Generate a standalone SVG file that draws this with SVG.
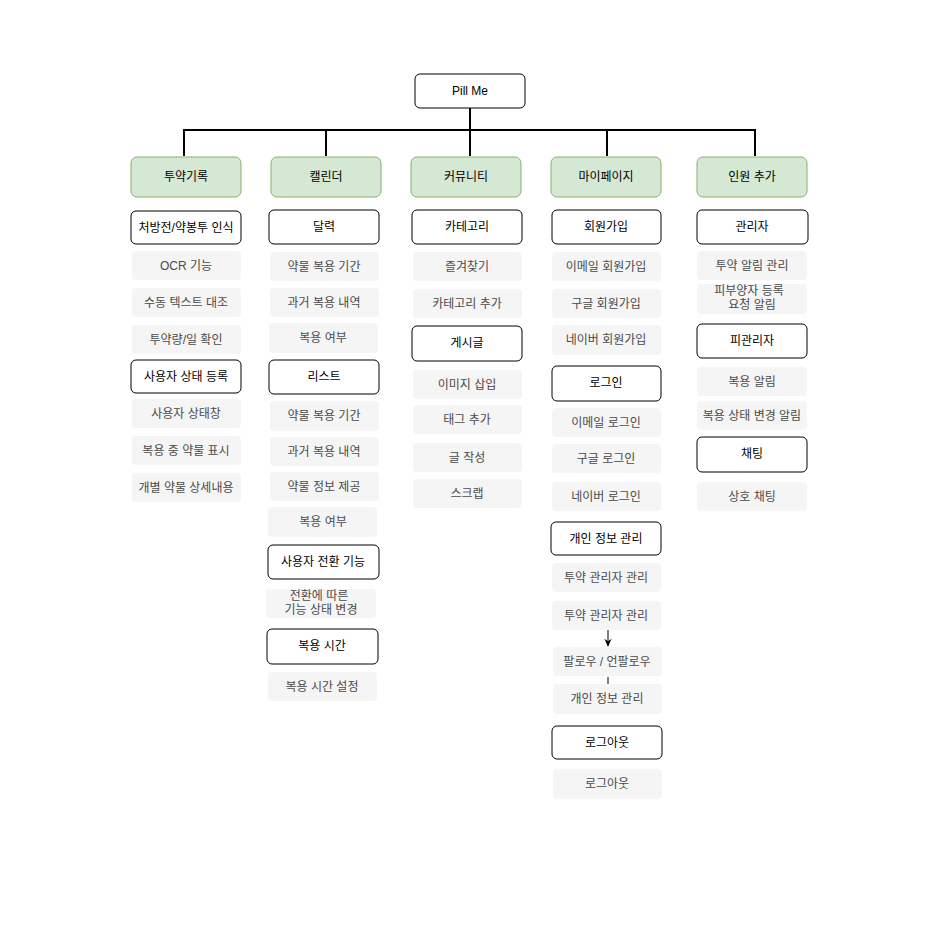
<svg xmlns="http://www.w3.org/2000/svg" width="935" height="935" viewBox="0 0 935 935">
<style>
text{font-family:"Liberation Sans","Noto Sans CJK KR",sans-serif;font-size:12px;text-anchor:middle;dominant-baseline:central}
.b rect{fill:#fff;stroke:#000;stroke-width:1}
.g rect{fill:#d5e8d4;stroke:#82b366;stroke-width:1}
.s rect{fill:#f5f5f5;stroke:none}
.b text,.g text{fill:#000}
.s text{fill:#4a4a4a}
.ln{fill:none;stroke:#000;stroke-width:2}
.ln1{fill:none;stroke:#000;stroke-width:1}
</style>
<defs>
<marker id="ah" viewBox="0 0 10 10" refX="9" refY="5" markerWidth="8" markerHeight="8" markerUnits="userSpaceOnUse" orient="auto"><path d="M0,0.5 L10,5 L0,9.5 L3,5 Z" fill="#000"/></marker>
</defs>
<rect width="935" height="935" fill="#fff"/>
<g id="connectors">
<path class="ln" d="M470,108 V156 M184,156 V130 H755 V156 M326,130 V156 M607,130 V156"/>
<path class="ln1" d="M608,630 V646" marker-end="url(#ah)"/>
<path class="ln1" d="M608,677 V684"/>
</g>
<g id="root" class="b"><rect x="415" y="74" width="110" height="34" rx="5"/><text x="470" y="91">Pill Me</text></g>
<g id="c1" class="g"><rect x="131" y="157" width="110" height="40" rx="6"/><text x="186" y="177">투약기록</text></g>
<g id="c2" class="g"><rect x="271" y="157" width="110" height="40" rx="6"/><text x="326" y="177">캘린더</text></g>
<g id="c3" class="g"><rect x="411" y="157" width="110" height="40" rx="6"/><text x="466" y="177">커뮤니티</text></g>
<g id="c4" class="g"><rect x="551" y="157" width="110" height="40" rx="6"/><text x="606" y="177">마이페이지</text></g>
<g id="c5" class="g"><rect x="697" y="157" width="110" height="40" rx="6"/><text x="752" y="177">인원 추가</text></g>

<g id="n1a" class="b"><rect x="131" y="211" width="110" height="33" rx="5"/><text x="186" y="227.5">처방전/약봉투 인식</text></g>
<g id="n1b" class="s"><rect x="132" y="251" width="109" height="29" rx="4"/><text x="186" y="265.5">OCR 기능</text></g>
<g id="n1c" class="s"><rect x="132" y="288" width="109" height="29" rx="4"/><text x="186" y="302.5">수동 텍스트 대조</text></g>
<g id="n1d" class="s"><rect x="132" y="325" width="109" height="29" rx="4"/><text x="186" y="339.5">투약량/일 확인</text></g>
<g id="n1e" class="b"><rect x="131" y="360" width="110" height="33" rx="5"/><text x="186" y="376.5">사용자 상태 등록</text></g>
<g id="n1f" class="s"><rect x="132" y="399" width="109" height="29" rx="4"/><text x="186" y="413.5">사용자 상태창</text></g>
<g id="n1g" class="s"><rect x="132" y="436" width="109" height="29" rx="4"/><text x="186" y="450.5">복용 중 약물 표시</text></g>
<g id="n1h" class="s"><rect x="132" y="473" width="109" height="29" rx="4"/><text x="186" y="487.5">개별 약물 상세내용</text></g>

<g id="n2a" class="b"><rect x="269" y="210" width="110" height="34" rx="5"/><text x="324" y="227">달력</text></g>
<g id="n2b" class="s"><rect x="270" y="252" width="109" height="29" rx="4"/><text x="324" y="266.5">약물 복용 기간</text></g>
<g id="n2c" class="s"><rect x="270" y="288" width="109" height="29" rx="4"/><text x="324" y="302.5">과거 복용 내역</text></g>
<g id="n2d" class="s"><rect x="269" y="323" width="109" height="30" rx="4"/><text x="323" y="338">복용 여부</text></g>
<g id="n2e" class="b"><rect x="269" y="360" width="110" height="34" rx="5"/><text x="324" y="377">리스트</text></g>
<g id="n2f" class="s"><rect x="270" y="401" width="109" height="30" rx="4"/><text x="324" y="416">약물 복용 기간</text></g>
<g id="n2g" class="s"><rect x="270" y="437" width="109" height="29" rx="4"/><text x="324" y="451.5">과거 복용 내역</text></g>
<g id="n2h" class="s"><rect x="270" y="472" width="109" height="29" rx="4"/><text x="324" y="486.5">약물 정보 제공</text></g>
<g id="n2i" class="s"><rect x="268" y="507" width="109" height="30" rx="4"/><text x="323" y="522">복용 여부</text></g>
<g id="n2j" class="b"><rect x="268" y="545" width="111" height="34" rx="5"/><text x="323" y="562">사용자 전환 기능</text></g>
<g id="n2k" class="s"><rect x="266" y="589" width="110" height="29" rx="4"/><text x="319" y="595.5">전환에 따른</text><text x="321" y="609.5">기능 상태 변경</text></g>
<g id="n2l" class="b"><rect x="267" y="629" width="111" height="35" rx="5"/><text x="322" y="646">복용 시간</text></g>
<g id="n2m" class="s"><rect x="268" y="672" width="109" height="29" rx="4"/><text x="322" y="686.5">복용 시간 설정</text></g>

<g id="n3a" class="b"><rect x="412" y="210" width="110" height="34" rx="5"/><text x="467" y="227">카테고리</text></g>
<g id="n3b" class="s"><rect x="413" y="252" width="109" height="29" rx="4"/><text x="467" y="266.5">즐겨찾기</text></g>
<g id="n3c" class="s"><rect x="413" y="289" width="109" height="29" rx="4"/><text x="467" y="303.5">카테고리 추가</text></g>
<g id="n3d" class="b"><rect x="412" y="326" width="110" height="35" rx="5"/><text x="467" y="343">게시글</text></g>
<g id="n3e" class="s"><rect x="413" y="370" width="109" height="29" rx="4"/><text x="467" y="384.5">이미지 삽입</text></g>
<g id="n3f" class="s"><rect x="413" y="405" width="109" height="29" rx="4"/><text x="467" y="419.5">태그 추가</text></g>
<g id="n3g" class="s"><rect x="413" y="443" width="109" height="29" rx="4"/><text x="467" y="457.5">글 작성</text></g>
<g id="n3h" class="s"><rect x="413" y="479" width="109" height="29" rx="4"/><text x="467" y="493.5">스크랩</text></g>

<g id="n4a" class="b"><rect x="552" y="210" width="109" height="34" rx="5"/><text x="606" y="227">회원가입</text></g>
<g id="n4b" class="s"><rect x="552" y="252" width="109" height="29" rx="4"/><text x="606" y="266.5">이메일 회원가입</text></g>
<g id="n4c" class="s"><rect x="552" y="289" width="109" height="29" rx="4"/><text x="606" y="303.5">구글 회원가입</text></g>
<g id="n4d" class="s"><rect x="552" y="325" width="109" height="30" rx="4"/><text x="606" y="340">네이버 회원가입</text></g>
<g id="n4e" class="b"><rect x="552" y="366" width="109" height="35" rx="5"/><text x="606" y="383">로그인</text></g>
<g id="n4f" class="s"><rect x="552" y="408" width="109" height="29" rx="4"/><text x="606" y="422.5">이메일 로그인</text></g>
<g id="n4g" class="s"><rect x="552" y="444" width="109" height="29" rx="4"/><text x="606" y="458.5">구글 로그인</text></g>
<g id="n4h" class="s"><rect x="552" y="482" width="109" height="29" rx="4"/><text x="606" y="496.5">네이버 로그인</text></g>
<g id="n4i" class="b"><rect x="551" y="522" width="110" height="33" rx="5"/><text x="606" y="538.5">개인 정보 관리</text></g>
<g id="n4j" class="s"><rect x="552" y="563" width="109" height="29" rx="4"/><text x="606" y="577.5">투약 관리자 관리</text></g>
<g id="n4k" class="s"><rect x="552" y="601" width="109" height="29" rx="4"/><text x="606" y="615.5">투약 관리자 관리</text></g>
<g id="n4l" class="s"><rect x="553" y="647" width="109" height="29" rx="4"/><text x="607" y="661.5">팔로우 / 언팔로우</text></g>
<g id="n4m" class="s"><rect x="553" y="684" width="109" height="30" rx="4"/><text x="607" y="699">개인 정보 관리</text></g>
<g id="n4n" class="b"><rect x="552" y="726" width="110" height="33" rx="5"/><text x="607" y="742.5">로그아웃</text></g>
<g id="n4o" class="s"><rect x="553" y="769" width="109" height="30" rx="4"/><text x="607" y="784">로그아웃</text></g>

<g id="n5a" class="b"><rect x="697" y="210" width="111" height="34" rx="5"/><text x="752" y="227">관리자</text></g>
<g id="n5b" class="s"><rect x="697" y="251" width="110" height="29" rx="4"/><text x="752" y="265.5">투약 알림 관리</text></g>
<g id="n5c" class="s"><rect x="697" y="284" width="110" height="30" rx="4"/><text x="749" y="291">피부양자 등록</text><text x="752" y="305">요청 알림</text></g>
<g id="n5d" class="b"><rect x="697" y="324" width="110" height="34" rx="5"/><text x="752" y="341">피관리자</text></g>
<g id="n5e" class="s"><rect x="697" y="367" width="110" height="29" rx="4"/><text x="752" y="381.5">복용 알림</text></g>
<g id="n5f" class="s"><rect x="697" y="401" width="110" height="29" rx="4"/><text x="752" y="415.5">복용 상태 변경 알림</text></g>
<g id="n5g" class="b"><rect x="697" y="437" width="110" height="35" rx="5"/><text x="752" y="454">채팅</text></g>
<g id="n5h" class="s"><rect x="697" y="482" width="110" height="29" rx="4"/><text x="752" y="496.5">상호 채팅</text></g>
</svg>
